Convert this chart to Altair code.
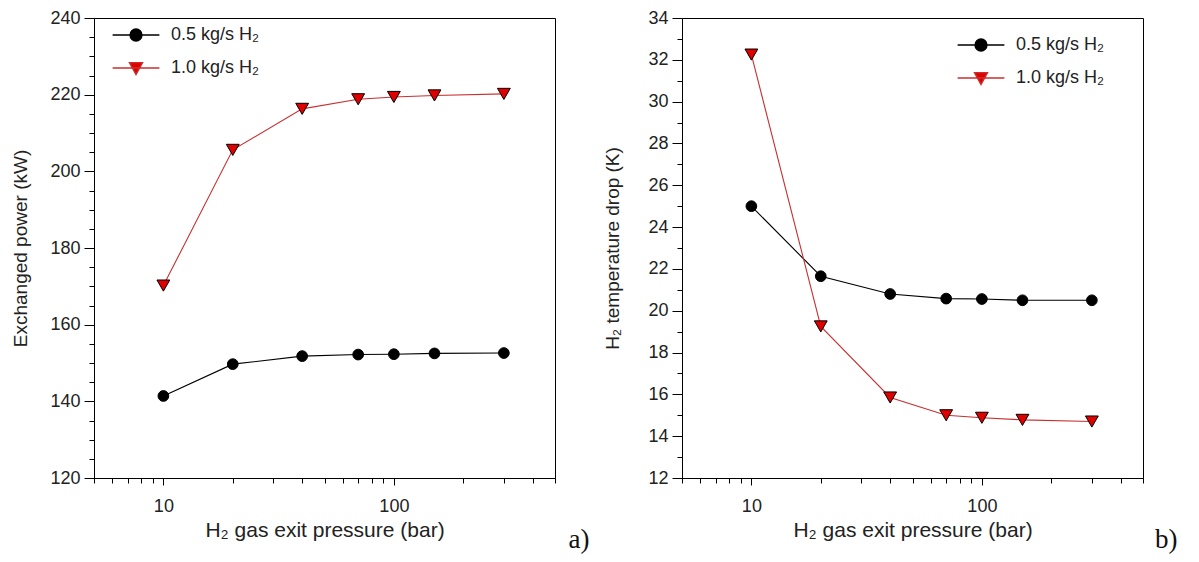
import altair as alt
import pandas as pd

# ---------------- data ----------------
pressure = [10, 20, 40, 70, 100, 150, 300]
series = ["0.5 kg/s H₂", "1.0 kg/s H₂"]

power_05 = [141.4, 149.7, 151.8, 152.2, 152.3, 152.5, 152.6]
power_10 = [170.2, 205.6, 216.3, 218.8, 219.4, 219.8, 220.2]

drop_05 = [25.0, 21.65, 20.8, 20.58, 20.56, 20.5, 20.5]
drop_10 = [32.25, 19.25, 15.85, 15.0, 14.88, 14.78, 14.7]

x_ticks = [5, 6, 7, 8, 9, 10, 20, 30, 40, 50, 60, 70, 80, 90, 100, 200, 300, 400, 500]
y_ticks_a = list(range(120, 241, 5))
y_ticks_b = list(range(12, 35, 1))

LINE_COLORS = ["#000000", "#c83030"]
FILL_COLORS = ["#000000", "#e00000"]
SHAPES = ["circle", "triangle-down"]
SIZES = [115, 165]

# legend symbols: a line segment with the marker in its middle
SYM_CIRCLE = "M-3.9,0L3.9,0M1,0A1,1,0,1,1,-1,0A1,1,0,1,1,1,0Z"
SYM_TRI = "M-3.9,0L3.9,0M-1.1,-0.9L1.1,-0.9L0,1.1Z"


def make_df(a, b):
    rows = []
    for p, v in zip(pressure, a):
        rows.append({"p": p, "v": v, "s": series[0]})
    for p, v in zip(pressure, b):
        rows.append({"p": p, "v": v, "s": series[1]})
    return pd.DataFrame(rows)


def panel(df, ydom, yvals, major_test, ytitle, ytitle_pad, legx, legy, tag):
    x_enc = alt.X(
        "p:Q",
        scale=alt.Scale(type="log", domain=[5, 500]),
        axis=alt.Axis(
            values=x_ticks,
            labelExpr="(datum.value == 10 || datum.value == 100) ? format(datum.value, 'd') : ''",
            tickSize={"condition": {"test": "datum.value == 10 || datum.value == 100", "value": 7}, "value": 5},
            labelPadding=12,
            labelOverlap=False,
            labelFlush=False,
            title="H₂ gas exit pressure (bar)",
            titleFontSize=21,
            titlePadding=4,
        ),
    )
    y_enc = alt.Y(
        "v:Q",
        scale=alt.Scale(domain=ydom, nice=False, zero=False),
        axis=alt.Axis(
            values=yvals,
            labelExpr="(" + major_test + ") ? format(datum.value, 'd') : ''",
            tickSize={"condition": {"test": major_test, "value": 10}, "value": 5},
            labelPadding=4,
            labelOverlap=False,
            title=ytitle,
            titleFontSize=19,
            titlePadding=ytitle_pad,
        ),
    )
    legend = alt.Legend(
        orient="none",
        legendX=legx,
        legendY=legy,
        title=None,
        labelFont="Liberation Sans",
        labelFontSize=18,
        labelColor="#222222",
        symbolSize=144,
        symbolStrokeWidth=1.3,
        symbolOpacity=1,
        labelOffset=26,
        rowPadding=15,
        padding=0,
    )
    line = alt.Chart(df).mark_line(strokeWidth=1.1).encode(
        x=x_enc,
        y=y_enc,
        stroke=alt.Stroke("s:N", scale=alt.Scale(domain=series, range=LINE_COLORS), legend=None),
    )
    pts = alt.Chart(df).mark_point(filled=True, stroke="black", strokeWidth=1, opacity=1).encode(
        x=x_enc,
        y=y_enc,
        fill=alt.Fill("s:N", scale=alt.Scale(domain=series, range=FILL_COLORS), legend=None),
        shape=alt.Shape("s:N", scale=alt.Scale(domain=series, range=SHAPES), legend=None),
        size=alt.Size("s:N", scale=alt.Scale(domain=series, range=SIZES), legend=None),
    )
    # legend-only layer (no rows survive the filter)
    leg = (
        alt.Chart(df)
        .transform_filter("datum.p < 0")
        .mark_point(filled=True, strokeWidth=1.3, opacity=1)
        .encode(
            x=x_enc,
            y=y_enc,
            fill=alt.Fill("s:N", scale=alt.Scale(domain=series, range=FILL_COLORS), legend=legend),
            stroke=alt.Stroke("s:N", scale=alt.Scale(domain=series, range=LINE_COLORS), legend=legend),
            shape=alt.Shape("s:N", scale=alt.Scale(domain=series, range=[SYM_CIRCLE, SYM_TRI]), legend=legend),
        )
    )
    return (
        alt.layer(line, pts, leg)
        .resolve_scale(shape="independent", fill="independent", stroke="independent")
        .properties(
            width=461,
            height=460,
            title=alt.TitleParams(
                tag,
                orient="bottom",
                anchor="end",
                font="Liberation Serif",
                fontSize=27,
                fontWeight="normal",
                color="#111111",
                dx=34,
                offset=-13,
            ),
        )
    )


left = panel(make_df(power_05, power_10), [120, 240], y_ticks_a, "datum.value % 20 == 0",
             "Exchanged power (kW)", 19, 33, 8, "a)")
right = panel(make_df(drop_05, drop_10), [12, 34], y_ticks_b, "datum.value % 2 == 0",
              "H₂ temperature drop (K)", 25, 290, 18, "b)")

chart = (
    alt.hconcat(left, right, spacing=13)
    .resolve_scale(fill="independent", shape="independent", stroke="independent", size="independent")
    .properties(padding={"left": 3, "top": 0, "right": 5, "bottom": 5}, background="white")
    .configure_view(stroke="black", strokeWidth=1)
    .configure_axis(
        grid=False,
        domainColor="black",
        tickColor="black",
        labelFont="Liberation Sans",
        labelFontSize=18,
        labelColor="#222222",
        titleFont="Liberation Sans",
        titleFontSize=20,
        titleFontWeight="normal",
        titleColor="#222222",
    )
)

chart.save("out.html", embed_options={"renderer": "svg", "actions": False})
